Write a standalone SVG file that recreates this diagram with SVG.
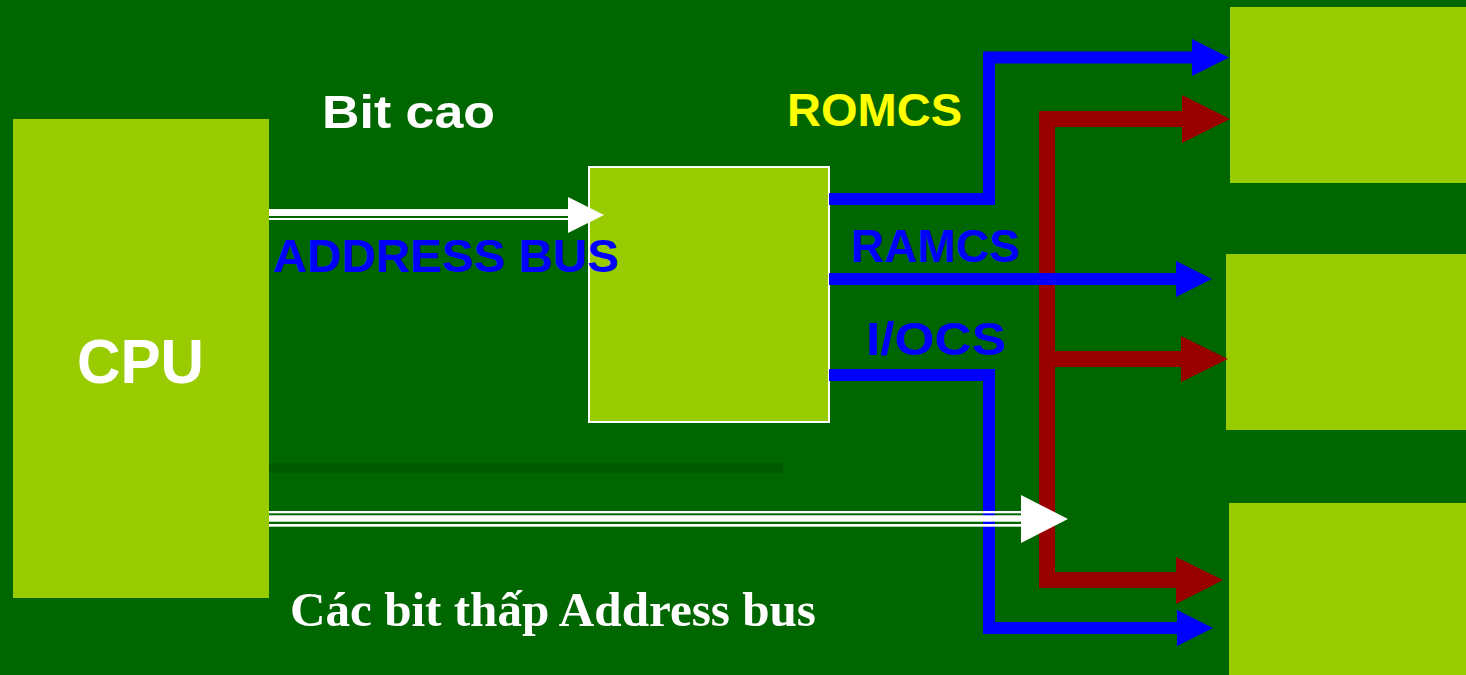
<svg xmlns="http://www.w3.org/2000/svg" width="1466" height="675" viewBox="0 0 1466 675">
<style>
.box{fill:#99CC00}
.lbl{font-family:"Liberation Sans",Arial,sans-serif;font-weight:bold}
.blue{fill:none;stroke:#0000FF;stroke-width:12;stroke-linejoin:miter;stroke-linecap:butt}
.red{fill:none;stroke:#990000;stroke-width:16;stroke-linejoin:miter;stroke-linecap:butt}
.bh{fill:#0000FF}
.rh{fill:#990000}
.wh{fill:#FFFFFF}
</style>
<rect x="0" y="0" width="1466" height="675" fill="#006600"/>
<rect x="269" y="463" width="514" height="10" fill="#005A00"/>
<g id="cpu">
<rect class="box" x="13" y="119" width="256" height="479"/>
<text class="lbl" x="77" y="383" font-size="63" fill="#FFFFFF" textLength="127" lengthAdjust="spacingAndGlyphs">CPU</text>
</g>
<g id="decoder">
<rect class="box" x="589" y="167" width="240" height="255" stroke="#FFFFFF" stroke-width="2"/>
</g>
<g id="rom">
<rect class="box" x="1230" y="7" width="236" height="176"/>
</g>
<g id="ram">
<rect class="box" x="1226" y="254" width="240" height="176"/>
</g>
<g id="io">
<rect class="box" x="1229" y="503" width="237" height="172"/>
</g>
<g id="connectors">
<path class="red" d="M1182,119 H1047 V580 H1176"/>
<path class="red" d="M1047,359 H1181"/>
<polygon class="rh" points="1182,95 1230,119 1182,143"/>
<polygon class="rh" points="1181,336 1228,359 1181,382"/>
<polygon class="rh" points="1176,557 1223,580 1176,604"/>
<path class="blue" d="M829,199 H989 V57.5 H1192"/>
<path class="blue" d="M829,279 H1176"/>
<path class="blue" d="M829,375 H989 V628 H1177"/>
<polygon class="bh" points="1192,39 1229,57.5 1192,76"/>
<polygon class="bh" points="1176,261 1212,279 1176,297"/>
<polygon class="bh" points="1177,610 1213,628 1177,646"/>
<g id="high-bits">
<rect class="wh" x="269" y="209" width="300" height="7"/>
<rect class="wh" x="269" y="218" width="300" height="2"/>
<polygon class="wh" points="568,197 604,215 568,233"/>
</g>
<g id="low-bits">
<rect class="wh" x="269" y="511" width="753" height="2.3"/>
<rect class="wh" x="269" y="515.3" width="753" height="6.4"/>
<rect class="wh" x="269" y="524" width="753" height="2.7"/>
<polygon class="wh" points="1021,495 1068,519 1021,543"/>
</g>
</g>
<g id="labels">
<text class="lbl" x="322" y="128" font-size="47" fill="#FFFFFF" textLength="173" lengthAdjust="spacingAndGlyphs">Bit cao</text>
<text class="lbl" x="273" y="272" font-size="47" fill="#0000FF" textLength="346" lengthAdjust="spacingAndGlyphs">ADDRESS BUS</text>
<text class="lbl" x="787" y="126" font-size="46" fill="#FFFF00" textLength="175" lengthAdjust="spacingAndGlyphs">ROMCS</text>
<text class="lbl" x="851" y="262" font-size="47" fill="#0000FF" textLength="169" lengthAdjust="spacingAndGlyphs">RAMCS</text>
<text class="lbl" x="866" y="355" font-size="47" fill="#0000FF" textLength="140" lengthAdjust="spacingAndGlyphs">I/OCS</text>
<text x="290" y="626" font-family="'Liberation Serif','Times New Roman',serif" font-weight="bold" font-size="49" fill="#FFFFFF" textLength="526" lengthAdjust="spacingAndGlyphs">Các bit thấp Address bus</text>
</g>
</svg>
